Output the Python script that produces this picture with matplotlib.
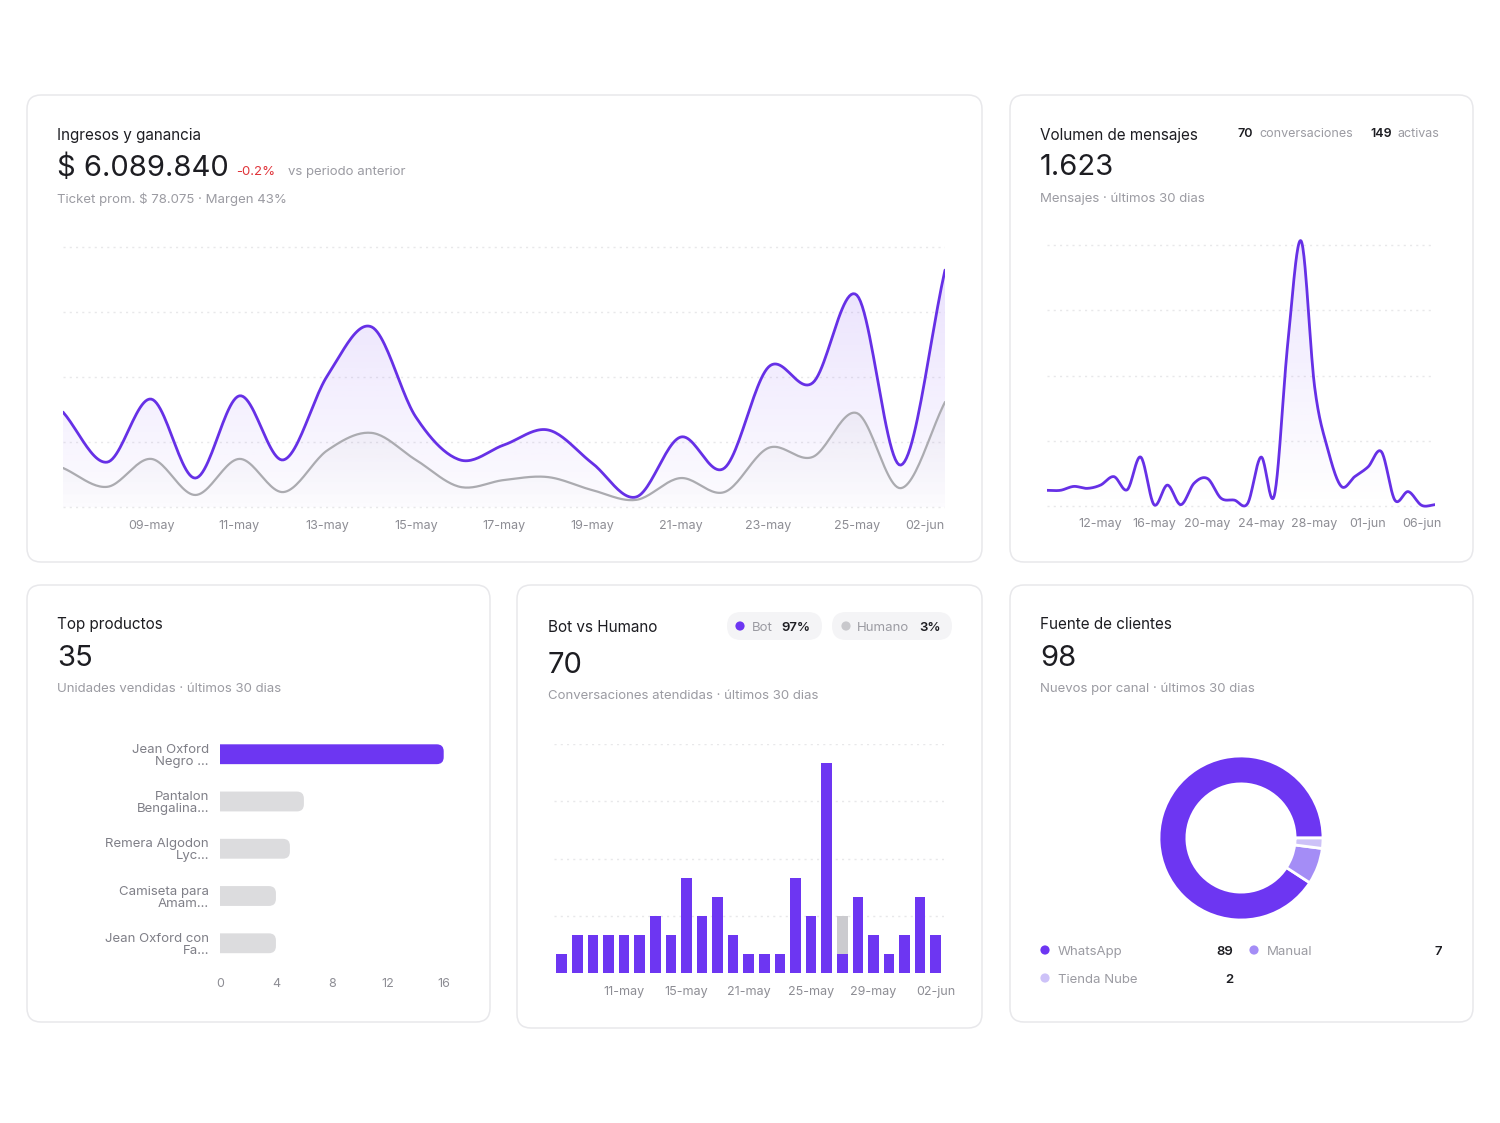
import numpy as np
import matplotlib
matplotlib.use('Agg')
import matplotlib.pyplot as plt
from matplotlib.patches import FancyBboxPatch, Circle
from matplotlib.colors import to_rgb

plt.rcParams['font.family'] = ['Inter', 'DejaVu Sans']

W, H = 1500, 1123

# ---------------- data ----------------
rev_dates = ['07-may', '08-may', '09-may', '10-may', '11-may', '12-may', '13-may',
             '14-may', '15-may', '16-may', '17-may', '18-may', '19-may', '20-may',
             '21-may', '22-may', '23-may', '24-may', '25-may', '27-may', '02-jun']
rev_income = [292, 138, 332, 89, 342, 145, 405, 554, 277, 145, 191, 237, 135, 31,
              215, 120, 431, 382, 652, 129, 729]          # miles de $
rev_profit = [120, 62, 148, 37, 148, 46, 175, 228, 145, 62, 83, 92, 52, 22,
              89, 46, 182, 154, 289, 58, 323]             # miles de $

msg_dates = ['08-may', '09-may', '10-may', '11-may', '12-may', '13-may', '14-may',
             '15-may', '16-may', '17-may', '18-may', '19-may', '20-may', '21-may',
             '22-may', '23-may', '24-may', '25-may', '26-may', '27-may', '28-may',
             '29-may', '30-may', '31-may', '01-jun', '02-jun', '04-jun', '05-jun',
             '06-jun', '07-jun']
msg_values = [24, 24, 30, 27, 32, 45, 25, 75, 2, 32, 2, 35, 42, 12, 9, 4, 75, 17,
              250, 406, 183, 86, 30, 45, 60, 83, 9, 22, 1, 2]

prod_names = ['Jean Oxford\nNegro ...', 'Pantalon\nBengalina...', 'Remera Algodon\nLyc...',
              'Camiseta para\nAmam...', 'Jean Oxford con\nFa...']
prod_units = [16, 6, 5, 4, 4]

conv_dates = ['07-may', '08-may', '09-may', '10-may', '11-may', '12-may', '13-may',
              '14-may', '15-may', '16-may', '18-may', '19-may', '21-may', '22-may',
              '23-may', '24-may', '25-may', '26-may', '27-may', '28-may', '29-may',
              '30-may', '31-may', '01-jun', '02-jun']
conv_bot = [1, 2, 2, 2, 2, 2, 3, 2, 5, 3, 4, 2, 1, 1, 1, 5, 3, 11, 1, 4, 2, 1, 2, 4, 2]
conv_human = [0, 0, 0, 0, 0, 0, 0, 0, 0, 0, 0, 0, 0, 0, 0, 0, 0, 0, 2, 0, 0, 0, 0, 0, 0]

src_names = ['WhatsApp', 'Manual', 'Tienda Nube']
src_counts = [89, 7, 2]

# ---------------- style ----------------
PURPLE = '#6d36f2'
LINE_PURPLE = '#6630e6'
GREY_LINE = '#ababb0'
DARK = '#1d1d22'
MUTED = '#9b9ba2'
TICK = '#8d8d94'
GRID = '#e8e8ea'
SRC_COLORS = ['#6d36f2', '#a48df6', '#cdc2f8']

fig = plt.figure(figsize=(W / 100, H / 100), dpi=100)
fig.patch.set_facecolor('white')

bg = fig.add_axes([0, 0, 1, 1], zorder=0)
bg.set_xlim(0, W)
bg.set_ylim(H, 0)
bg.axis('off')


def add_ax(x0, y0, x1, y1, **kw):
    return fig.add_axes([x0 / W, 1 - y1 / H, (x1 - x0) / W, (y1 - y0) / H], zorder=2, **kw)


def card(x0, y0, x1, y1):
    bg.add_patch(FancyBboxPatch((x0, y0), x1 - x0, y1 - y0,
                                boxstyle='round,pad=0,rounding_size=14',
                                fc='white', ec='#e8e8eb', lw=1.1))


def txt(x, y, s, size=9.5, color=DARK, weight='normal', ha='left'):
    bg.text(x, y, s, fontsize=size, color=color, fontweight=weight, ha=ha, va='baseline')


def smooth(x, y, n=24):
    x = np.asarray(x, float)
    y = np.asarray(y, float)
    xp = np.concatenate([[2 * x[0] - x[1]], x, [2 * x[-1] - x[-2]]])
    yp = np.concatenate([[2 * y[0] - y[1]], y, [2 * y[-1] - y[-2]]])
    t = np.linspace(0, 1, n, endpoint=False)[:, None]
    xs, ys = [], []
    for i in range(1, len(x)):
        P = np.array([[xp[i - 1], yp[i - 1]], [xp[i], yp[i]], [xp[i + 1], yp[i + 1]], [xp[i + 2], yp[i + 2]]])
        pts = 0.5 * ((2 * P[1]) + (-P[0] + P[2]) * t + (2 * P[0] - 5 * P[1] + 4 * P[2] - P[3]) * t ** 2
                     + (-P[0] + 3 * P[1] - 3 * P[2] + P[3]) * t ** 3)
        xs.append(pts[:, 0])
        ys.append(pts[:, 1])
    xs.append([x[-1]])
    ys.append([y[-1]])
    return np.concatenate(xs), np.concatenate(ys)


def gradient_fill(ax, x, y, color, a_top, a_bot, base, zorder):
    poly = ax.fill_between(x, y, base, color='none', lw=0)
    path = poly.get_paths()[0]
    rgba = np.zeros((256, 1, 4))
    rgba[..., :3] = to_rgb(color)
    rgba[..., 3] = np.linspace(a_bot, a_top, 256)[:, None]
    im = ax.imshow(rgba, extent=[x.min(), x.max(), base, y.max()], origin='lower',
                   aspect='auto', zorder=zorder, interpolation='bilinear')
    im.set_clip_path(path, transform=ax.transData)


def clean(ax):
    for s in ax.spines.values():
        s.set_visible(False)
    ax.set_facecolor('none')
    ax.tick_params(length=0, labelsize=9, colors=TICK)


# ---------------- cards ----------------
card(27, 95, 982, 562)
card(1010, 95, 1473, 562)
card(27, 585, 490, 1022)
card(517, 585, 982, 1028)
card(1010, 585, 1473, 1022)

# ---------------- card 1: ingresos ----------------
txt(57, 140, 'Ingresos y ganancia', 11)
txt(57, 176, '$ 6.089.840', 21)
txt(236, 175, '-0.2%', 9.5, '#e0343a')
txt(288, 175, 'vs periodo anterior', 9.5, MUTED)
txt(57, 203, 'Ticket prom. $ 78.075 · Margen 43%', 9.5, MUTED)

ax1 = add_ax(63, 240.5, 945, 513.5)
clean(ax1)
xi = np.arange(len(rev_dates))
inc = np.array(rev_income) * 1000
pro = np.array(rev_profit) * 1000
sx, sy = smooth(xi, inc)
gx, gy = smooth(xi, pro)
gradient_fill(ax1, sx, sy, '#8b5cf6', 0.18, 0.02, 0, 1)
gradient_fill(ax1, gx, gy, '#9a9aa5', 0.10, 0.0, 0, 2)
ax1.plot(gx, gy, color=GREY_LINE, lw=1.6, zorder=3, solid_capstyle='round')
ax1.plot(sx, sy, color=LINE_PURPLE, lw=2.0, zorder=4, solid_capstyle='round')
ax1.set_xlim(0, len(rev_dates) - 1)
ax1.set_ylim(-20000, 820000)
ax1.set_yticks([0, 200000, 400000, 600000, 800000])
ax1.set_yticklabels([])
ax1.grid(axis='y', color=GRID, lw=1, linestyle=(0, (1.5, 3)))
ax1.set_axisbelow(True)
ticks1 = list(range(2, len(rev_dates), 2))
ax1.set_xticks(ticks1)
ax1.set_xticklabels([rev_dates[i] for i in ticks1])
ax1.tick_params(axis='x', pad=5)
ax1.get_xticklabels()[-1].set_ha('right')

# ---------------- card 2: mensajes ----------------
txt(1040, 140, 'Volumen de mensajes', 11)
txt(1238, 137, '70', 9, DARK, 'semibold')
txt(1259, 137, 'conversaciones', 9, MUTED)
txt(1370, 137, '149', 9, DARK, 'semibold')
txt(1398, 137, 'activas', 9, MUTED)
txt(1040, 175, '1.623', 21)
txt(1040, 202, 'Mensajes · últimos 30 dias', 9.5, MUTED)

ax2 = add_ax(1047, 238.5, 1435, 511.2)
clean(ax2)
mi = np.arange(len(msg_dates))
mx, my = smooth(mi, msg_values)
gradient_fill(ax2, mx, my, '#8b5cf6', 0.16, 0.0, 0, 1)
ax2.plot(mx, my, color=LINE_PURPLE, lw=2.0, zorder=4, solid_capstyle='round')
ax2.set_xlim(0, len(msg_dates) - 1)
ax2.set_ylim(-8, 410)
ax2.set_yticks([0, 100, 200, 300, 400])
ax2.set_yticklabels([])
ax2.grid(axis='y', color=GRID, lw=1, linestyle=(0, (1.5, 3)))
ax2.set_axisbelow(True)
ticks2 = list(range(4, len(msg_dates), 4))
ax2.set_xticks(ticks2)
ax2.set_xticklabels([msg_dates[i] for i in ticks2])
ax2.tick_params(axis='x', pad=5)

# ---------------- card 3: top productos ----------------
txt(57, 629, 'Top productos', 11)
txt(57, 666, '35', 21)
txt(57, 692, 'Unidades vendidas · últimos 30 dias', 9.5, MUTED)

ax3 = add_ax(220, 730.6, 443.7, 966.9)
clean(ax3)
yy = np.arange(len(prod_names))
bars = ax3.barh(yy, prod_units, height=0.42, color='none')
ax3.set_xlim(0, 16)
ax3.set_ylim(len(prod_names) - 0.5, -0.5)
# rounded bar ends, circular in pixels
bb = ax3.get_position()
px_per_x = bb.width * W / 16.0
px_per_y = bb.height * H / len(prod_names)
rr = 7.0 / px_per_x
for i, (b, v) in enumerate(zip(bars, prod_units)):
    col = PURPLE if i == 0 else '#dcdcde'
    ax3.add_patch(FancyBboxPatch((-rr * 2, b.get_y()), v + rr * 2, b.get_height(),
                                 boxstyle=f'round,pad=0,rounding_size={rr}',
                                 mutation_aspect=px_per_x / px_per_y,
                                 fc=col, ec='none', zorder=3))
ax3.set_yticks(yy)
ax3.set_yticklabels(prod_names, color='#7f7f87', fontsize=9.5, linespacing=1.0)
ax3.set_xticks([0, 4, 8, 12, 16])
ax3.tick_params(axis='x', pad=8)
ax3.tick_params(axis='y', pad=8)

# ---------------- card 4: bot vs humano ----------------
txt(548, 632, 'Bot vs Humano', 11)
bg.add_patch(FancyBboxPatch((727, 612), 95, 28, boxstyle='round,pad=0,rounding_size=14',
                            fc='#f4f4f6', ec='none'))
bg.add_patch(FancyBboxPatch((832, 612), 120, 28, boxstyle='round,pad=0,rounding_size=14',
                            fc='#f4f4f6', ec='none'))
bg.add_patch(Circle((740, 626), 4.6, fc=PURPLE, ec='none'))
bg.add_patch(Circle((846, 626), 4.6, fc='#c8c8cc', ec='none'))
txt(752, 631, 'Bot', 9.5, MUTED)
txt(781, 631, '97%', 9.5, DARK, 'semibold')
txt(857, 631, 'Humano', 9.5, MUTED)
txt(919, 631, '3%', 9.5, DARK, 'semibold')
txt(548, 673, '70', 21)
txt(548, 699, 'Conversaciones atendidas · últimos 30 dias', 9.5, MUTED)

ax4 = add_ax(554, 744, 943.5, 973)
clean(ax4)
ci = np.arange(len(conv_dates))
ax4.bar(ci, conv_bot, width=0.68, color=PURPLE, zorder=3)
ax4.bar(ci, conv_human, bottom=conv_bot, width=0.68, color='#cbcbcf', zorder=3)
ax4.set_xlim(-0.5, len(conv_dates) - 0.5)
ax4.set_ylim(0, 12)
ax4.set_yticks([3, 6, 9, 12])
ax4.set_yticklabels([])
ax4.grid(axis='y', color=GRID, lw=1, linestyle=(0, (1.5, 3)))
ax4.set_axisbelow(True)
ticks4 = list(range(4, len(conv_dates), 4))
ax4.set_xticks(ticks4)
ax4.set_xticklabels([conv_dates[i] for i in ticks4])
ax4.tick_params(axis='x', pad=9)

# ---------------- card 5: fuente de clientes ----------------
txt(1040, 629, 'Fuente de clientes', 11)
txt(1040, 666, '98', 21)
txt(1040, 692, 'Nuevos por canal · últimos 30 dias', 9.5, MUTED)

ax5 = add_ax(1241 - 82, 838 - 82, 1241 + 82, 838 + 82)
ax5.pie(src_counts, colors=SRC_COLORS, startangle=0, counterclock=True, radius=1.0,
        wedgeprops=dict(width=0.34, edgecolor='white', linewidth=2))
ax5.set_xlim(-1, 1)
ax5.set_ylim(-1, 1)
ax5.set_aspect('equal')
ax5.axis('off')

leg = [(1045, 955, 1233), (1254, 955, 1442), (1045, 983, 1233)]
for (lx, ly, vx), name, cnt, col in zip(leg, src_names, src_counts, SRC_COLORS):
    bg.add_patch(Circle((lx, ly - 5), 4.6, fc=col, ec='none'))
    txt(lx + 13, ly, name, 9.5, MUTED)
    txt(vx, ly, str(cnt), 9.5, DARK, 'semibold', ha='right')

fig.savefig('out.png', dpi=100, facecolor='white')
